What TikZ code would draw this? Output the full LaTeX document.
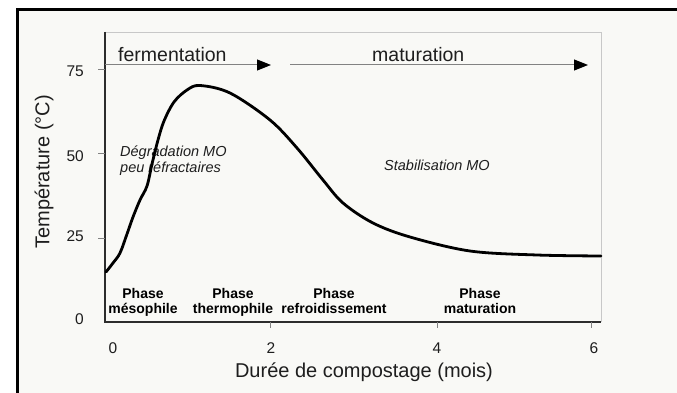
\documentclass[tikz,border=0pt]{standalone}
\usepackage{fontspec}
\setmainfont{Liberation Sans}
\usetikzlibrary{arrows.meta}
\definecolor{bgc}{RGB}{249,249,246}
\definecolor{axisc}{RGB}{45,45,45}
\definecolor{lightc}{RGB}{200,200,200}
\definecolor{arrc}{RGB}{130,130,130}
\definecolor{txtc}{RGB}{30,30,30}
\tikzset{
  ticklab/.style={inner sep=0pt, text=txtc, font=\fontsize{15.5}{18}\selectfont},
  axtitle/.style={inner sep=0pt, text=txtc, font=\fontsize{20}{24}\selectfont},
  bigword/.style={inner sep=0pt, anchor=base west, text=txtc, font=\fontsize{19.5}{23}\selectfont},
  itlab/.style={inner sep=0pt, anchor=base west, text=txtc, font=\fontsize{14.5}{16}\selectfont\itshape},
  phaselab/.style={inner sep=0pt, anchor=base, text=black, font=\fontsize{14}{16}\selectfont\bfseries},
  tickmark/.style={draw=arrc, line width=0.8pt},
  phasearrow/.style={draw=arrc, line width=1pt, -{Triangle[length=14pt,width=11pt,color=black]}},
  curve/.style={draw=black, line width=2.8pt, line join=round, line cap=round}
}
\begin{document}
\begin{tikzpicture}[x=1pt,y=-1pt]
\useasboundingbox (0,0) rectangle (677,393);
\fill[white] (0,0) rectangle (677,393);
\fill[bgc] (17,10) rectangle (677,393);
\draw[line width=3pt] (17,393) -- (17,10) -- (677,10);

% plot frame
\coordinate (tl) at (105,32);
\coordinate (bl) at (105,322);
\coordinate (br) at (601,322);
\coordinate (tr) at (601,32);
\draw[lightc, line width=0.7pt] (tl) -- (tr) -- (br);
\draw[axisc, line width=1.3pt] (tl) -- (bl) -- (br);

% y ticks
\coordinate (y75) at (105,69);
\coordinate (y50) at (105,153);
\coordinate (y25) at (105,238);
\coordinate (y0) at (105,322);
\foreach \c in {y75,y50,y25} \draw[tickmark] (\c) -- ++(-7,0);
\node[ticklab, anchor=east] (l75) at (84,71) {75};
\node[ticklab, anchor=east] (l50) at (84,156) {50};
\node[ticklab, anchor=east] (l25) at (84,236) {25};
\node[ticklab, anchor=east] (l0) at (84,319) {0};

% x ticks
\coordinate (x2) at (270,322);
\coordinate (x4) at (437,322);
\coordinate (x6) at (591,322);
\foreach \c in {x2,x4,x6} \draw[tickmark] (\c) -- ++(0,6);
\node[ticklab, anchor=base] (t0) at (113,353) {0};
\node[ticklab, anchor=base] (t2) at (271,353) {2};
\node[ticklab, anchor=base] (t4) at (437,353) {4};
\node[ticklab, anchor=base] (t6) at (594,353) {6};

% axis titles
\node[axtitle, anchor=base] (xt) at (364,377) {Durée de compostage (mois)};
\node[axtitle, rotate=90] (yt) at (44,172) {Température (°C)};

% phase arrows
\node[bigword] (ferm) at (118,62) {fermentation};
\node[bigword] (matu) at (372,62) {maturation};
\coordinate (fa) at (105,65);
\coordinate (fb) at (271,65);
\coordinate (ma) at (290,65);
\coordinate (mb) at (588,65);
\draw[phasearrow] (fa) -- (fb);
\draw[phasearrow] (ma) -- (mb);

% italic notes
\node[itlab] (deg1) at (120,157) {Dégradation MO};
\node[itlab] (deg2) at (120,172) {peu réfractaires};
\node[itlab] (stab) at (384,170) {Stabilisation MO};

% curve
\draw[curve] plot[smooth, tension=0.55] coordinates {
(106,272) (113,263) (120,253) (127,234) (133,217) (140,200) (147,186)
(152,164) (158,140) (164,121) (174,102) (187,90) (200,85.5)
(230,93) (270,120) (297,148) (323,180) (343,203) (373,223) (410,237)
(470,251) (537,255) (601,256)};

% phase labels
\node[phaselab] (p1a) at (143,298) {Phase};
\node[phaselab] (p1b) at (143,313) {mésophile};
\node[phaselab] (p2a) at (233,298) {Phase};
\node[phaselab] (p2b) at (233,313) {thermophile};
\node[phaselab] (p3a) at (334,298) {Phase};
\node[phaselab] (p3b) at (334,313) {refroidissement};
\node[phaselab] (p4a) at (480,298) {Phase};
\node[phaselab] (p4b) at (480,313) {maturation};
\end{tikzpicture}
\end{document}
